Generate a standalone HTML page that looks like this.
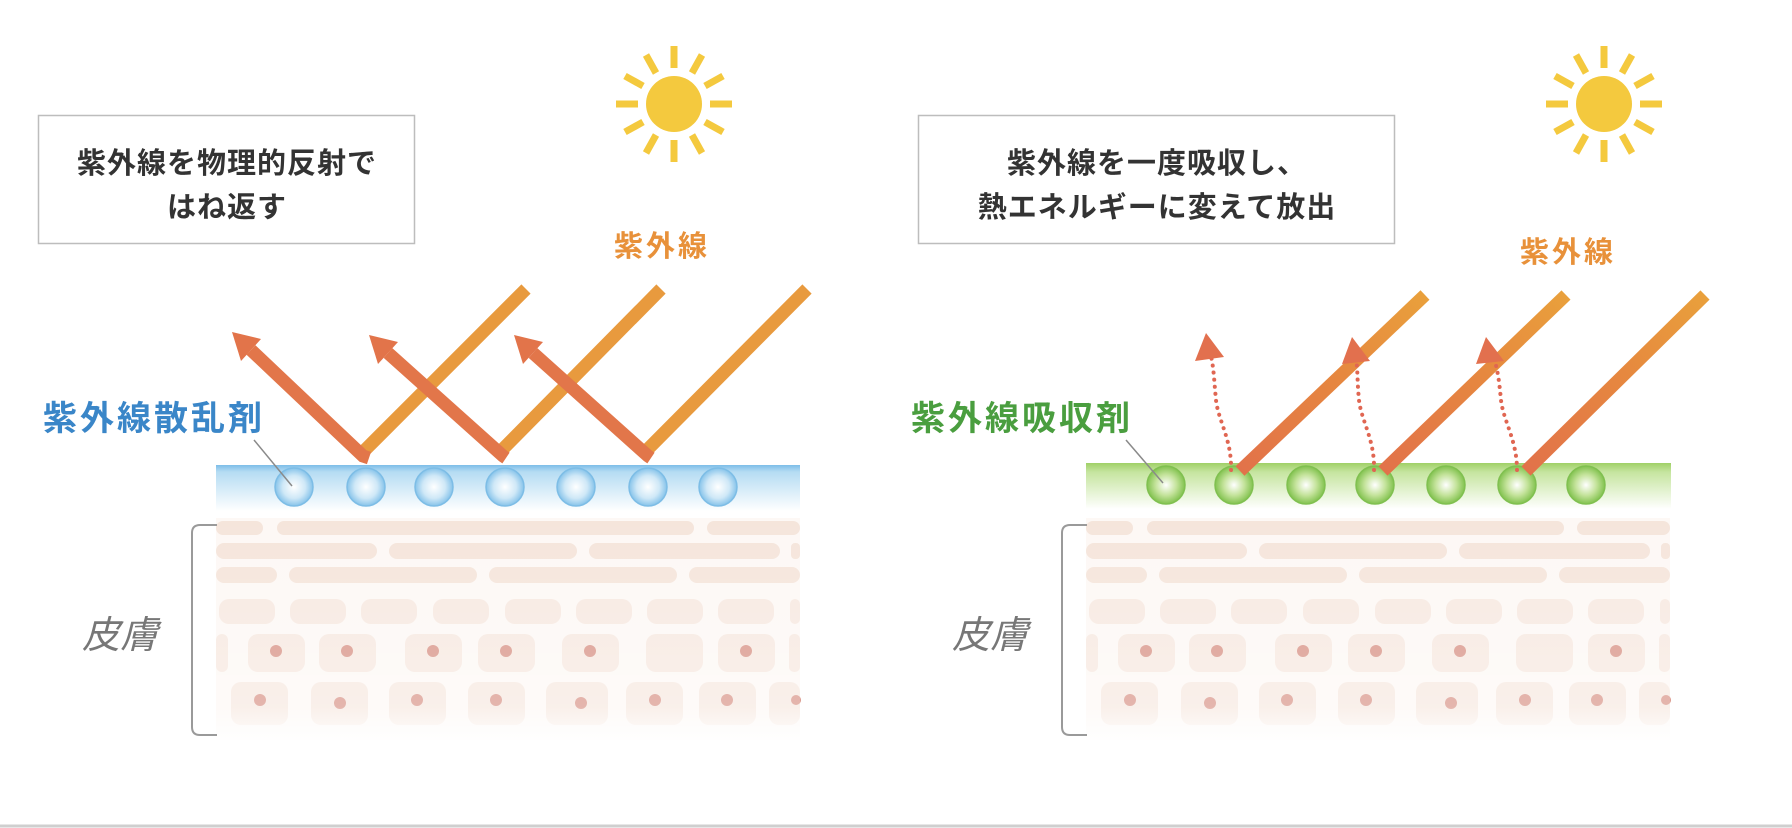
<!DOCTYPE html>
<html><head><meta charset="utf-8"><style>
html,body{margin:0;padding:0;background:#fff;}
svg{display:block;}
text{font-family:"Liberation Sans","Noto Sans CJK JP",sans-serif;}
</style></head><body>
<svg width="1792" height="828" viewBox="0 0 1792 828" xmlns="http://www.w3.org/2000/svg">
<defs>
<linearGradient id="blueBand" x1="0" y1="0" x2="0" y2="1">
<stop offset="0" stop-color="#7dbde8"/><stop offset="0.15" stop-color="#b5dcf3"/><stop offset="1" stop-color="#ffffff"/></linearGradient>
<linearGradient id="greenBand" x1="0" y1="0" x2="0" y2="1">
<stop offset="0" stop-color="#9fd067"/><stop offset="0.2" stop-color="#c6e5a0"/><stop offset="1" stop-color="#ffffff"/></linearGradient>
<radialGradient id="bc" cx="0.5" cy="0.5" r="0.5"><stop offset="0" stop-color="#ffffff"/><stop offset="0.6" stop-color="#cfe8f7"/><stop offset="1" stop-color="#86c3ea"/></radialGradient>
<radialGradient id="gc" cx="0.5" cy="0.5" r="0.5"><stop offset="0" stop-color="#ffffff"/><stop offset="0.55" stop-color="#c4e39b"/><stop offset="1" stop-color="#82c24f"/></radialGradient>
<linearGradient id="skinFade" x1="0" y1="0" x2="0" y2="1"><stop offset="0" stop-color="#fff" stop-opacity="0"/><stop offset="0.85" stop-color="#fff" stop-opacity="0.3"/><stop offset="1" stop-color="#fff" stop-opacity="0.9"/></linearGradient>
<linearGradient id="ray" x1="0" y1="1" x2="1" y2="0"><stop offset="0" stop-color="#e2724a"/><stop offset="0.55" stop-color="#e6883f"/><stop offset="1" stop-color="#e9a03c"/></linearGradient>
<g id="skin">
<rect x="216" y="518" width="584" height="222" fill="#fdf8f5"/>
<g fill="#f5e5db">
<rect x="216" y="521" width="47" height="14" rx="7"/><rect x="277" y="521" width="417" height="14" rx="7"/><rect x="707" y="521" width="93" height="14" rx="7"/>
<rect x="216" y="543" width="161" height="16" rx="8"/><rect x="389" y="543" width="188" height="16" rx="8"/><rect x="589" y="543" width="191" height="16" rx="8"/><rect x="791" y="543" width="9" height="16" rx="4"/>
<rect x="216" y="567" width="61" height="16" rx="8"/><rect x="289" y="567" width="188" height="16" rx="8"/><rect x="489" y="567" width="188" height="16" rx="8"/><rect x="689" y="567" width="111" height="16" rx="8"/>
</g>
<g fill="#f7e9e1">
<rect x="219" y="599" width="56" height="25" rx="10"/><rect x="290" y="599" width="56" height="25" rx="10"/><rect x="361" y="599" width="56" height="25" rx="10"/><rect x="433" y="599" width="56" height="25" rx="10"/><rect x="505" y="599" width="56" height="25" rx="10"/><rect x="576" y="599" width="56" height="25" rx="10"/><rect x="647" y="599" width="56" height="25" rx="10"/><rect x="718" y="599" width="56" height="25" rx="10"/><rect x="790" y="599" width="10" height="25" rx="5"/>
<rect x="216" y="634" width="12" height="38" rx="6"/><rect x="248" y="634" width="57" height="38" rx="10"/><rect x="319" y="634" width="57" height="38" rx="10"/><rect x="405" y="634" width="57" height="38" rx="10"/><rect x="478" y="634" width="57" height="38" rx="10"/><rect x="562" y="634" width="57" height="38" rx="10"/><rect x="646" y="634" width="57" height="38" rx="10"/><rect x="718" y="634" width="57" height="38" rx="10"/><rect x="789" y="634" width="11" height="38" rx="5"/>
<rect x="231" y="682" width="57" height="43" rx="10"/><rect x="311" y="682" width="57" height="43" rx="10"/><rect x="389" y="682" width="57" height="43" rx="10"/><rect x="468" y="682" width="57" height="43" rx="10"/><rect x="546" y="682" width="62" height="43" rx="10"/><rect x="626" y="682" width="57" height="43" rx="10"/><rect x="699" y="682" width="57" height="43" rx="10"/><rect x="769" y="682" width="31" height="43" rx="10"/>
</g>
<g fill="#d9968a">
<circle cx="276" cy="651" r="6"/><circle cx="347" cy="651" r="6"/><circle cx="433" cy="651" r="6"/><circle cx="506" cy="651" r="6"/><circle cx="590" cy="651" r="6"/><circle cx="746" cy="651" r="6"/>
<circle cx="260" cy="700" r="6"/><circle cx="340" cy="703" r="6"/><circle cx="417" cy="700" r="6"/><circle cx="496" cy="700" r="6"/><circle cx="581" cy="703" r="6"/><circle cx="655" cy="700" r="6"/><circle cx="727" cy="700" r="6"/><circle cx="796" cy="700" r="5"/>
</g>
<rect x="216" y="518" width="584" height="222" fill="url(#skinFade)"/>
<path d="M217,525 H200 Q192,525 192,533 V727 Q192,735 200,735 H217" fill="none" stroke="#9a9a9a" stroke-width="2"/>
</g>
<g id="sun" fill="#f4c93e">
<circle cx="0" cy="0" r="28"/>
<g stroke="#f4c93e" stroke-width="7">
<line x1="0" y1="-36" x2="0" y2="-58"/><line x1="0" y1="36" x2="0" y2="58"/><line x1="-36" y1="0" x2="-58" y2="0"/><line x1="36" y1="0" x2="58" y2="0"/>
<line x1="18" y1="-31" x2="28" y2="-49"/><line x1="-18" y1="-31" x2="-28" y2="-49"/><line x1="18" y1="31" x2="28" y2="49"/><line x1="-18" y1="31" x2="-28" y2="49"/>
<line x1="31" y1="-18" x2="49" y2="-28"/><line x1="-31" y1="-18" x2="-49" y2="-28"/><line x1="31" y1="18" x2="49" y2="28"/><line x1="-31" y1="18" x2="-49" y2="28"/>
</g></g>
</defs>

<!-- LEFT PANEL -->
<rect x="38.5" y="115.5" width="376" height="128" fill="#fff" stroke="#bdbdbd" stroke-width="1.5"/>
<text x="227" y="173" font-size="29" font-weight="bold" fill="#333" text-anchor="middle" letter-spacing="1">紫外線を物理的反射で</text>
<text x="227" y="217" font-size="29" font-weight="bold" fill="#333" text-anchor="middle" letter-spacing="1">はね返す</text>
<use href="#sun" transform="translate(674,104)"/>
<text x="662" y="256" font-size="29" font-weight="bold" fill="#e8913a" text-anchor="middle" letter-spacing="3">紫外線</text>

<use href="#skin"/>
<rect x="216" y="465" width="584" height="46" fill="url(#blueBand)"/>
<g fill="url(#bc)" stroke="#7dbde6" stroke-width="1.5">
<circle cx="294" cy="487" r="19"/><circle cx="366" cy="487" r="19"/><circle cx="434" cy="487" r="19"/><circle cx="505" cy="487" r="19"/><circle cx="576" cy="487" r="19"/><circle cx="648" cy="487" r="19"/><circle cx="718" cy="487" r="19"/>
</g>
<line x1="254" y1="440" x2="292" y2="486" stroke="#8a8a8a" stroke-width="1.5"/>
<text x="43" y="430" font-size="34" font-weight="bold" fill="#3a86c8" letter-spacing="3">紫外線散乱剤</text>

<g stroke-width="13" stroke-linecap="butt" fill="none">
<line x1="526" y1="289" x2="363" y2="452" stroke="#e89a3e"/>
<polyline points="369,458 363,456 251,350" stroke="#e2764a"/>
<polygon points="232,332 261,339 241,361" fill="#e2744a" stroke="none"/>
<line x1="661" y1="289" x2="500" y2="452" stroke="#e89a3e"/>
<polyline points="506,458 503,456 388,353" stroke="#e2764a"/>
<polygon points="369,335 398,342 378,364" fill="#e2744a" stroke="none"/>
<line x1="807" y1="289" x2="645" y2="452" stroke="#e89a3e"/>
<polyline points="651,458 648,456 533,353" stroke="#e2764a"/>
<polygon points="514,335 543,342 523,364" fill="#e2744a" stroke="none"/>
</g>

<!-- RIGHT PANEL -->
<rect x="918.5" y="115.5" width="476" height="128" fill="#fff" stroke="#bdbdbd" stroke-width="1.5"/>
<text x="1157" y="173" font-size="29" font-weight="bold" fill="#333" text-anchor="middle" letter-spacing="1">紫外線を一度吸収し、</text>
<text x="1157" y="217" font-size="29" font-weight="bold" fill="#333" text-anchor="middle" letter-spacing="1">熱エネルギーに変えて放出</text>
<use href="#sun" transform="translate(1604,104)"/>
<text x="1568" y="262" font-size="29" font-weight="bold" fill="#e8913a" text-anchor="middle" letter-spacing="3">紫外線</text>

<use href="#skin" transform="translate(870,0)"/>
<rect x="1086" y="463" width="585" height="46" fill="url(#greenBand)"/>
<g fill="url(#gc)" stroke="#80c050" stroke-width="1.5">
<circle cx="1166" cy="485" r="19"/><circle cx="1234" cy="485" r="19"/><circle cx="1306" cy="485" r="19"/><circle cx="1375" cy="485" r="19"/><circle cx="1446" cy="485" r="19"/><circle cx="1517" cy="485" r="19"/><circle cx="1586" cy="485" r="19"/>
</g>
<line x1="1126" y1="440" x2="1163" y2="483" stroke="#8a8a8a" stroke-width="1.5"/>
<text x="911" y="430" font-size="34" font-weight="bold" fill="#4a9e3f" letter-spacing="3">紫外線吸収剤</text>

<g stroke-width="13" fill="none">
<line x1="1240" y1="471" x2="1425" y2="295" stroke="url(#ray)"/>
<line x1="1383" y1="471" x2="1566" y2="295" stroke="url(#ray)"/>
<line x1="1526" y1="471" x2="1705" y2="295" stroke="url(#ray)"/>
</g>
<g fill="none" stroke="#e06652" stroke-width="4" stroke-linecap="round" stroke-dasharray="0.1 7">
<path d="M1231,470 C1232,440 1218,420 1216,400 S1214,370 1211,356"/>
<path d="M1374,470 C1375,440 1361,420 1359,400 S1358,372 1356,358"/>
<path d="M1517,470 C1517,440 1503,420 1501,400 S1498,372 1494,358"/>
</g>
<g fill="#e2704e">
<polygon points="1206,333 1195,361 1224,357"/>
<polygon points="1352,337 1342,364 1370,361"/>
<polygon points="1486,337 1476,364 1504,361"/>
</g>

<line x1="0" y1="826" x2="1792" y2="826" stroke="#cfcfcf" stroke-width="3"/>

<text x="120" y="648" font-size="38" fill="#777" text-anchor="middle" font-style="italic">皮膚</text>
<text x="990" y="648" font-size="38" fill="#777" text-anchor="middle" font-style="italic">皮膚</text>
</svg>
</body></html>
